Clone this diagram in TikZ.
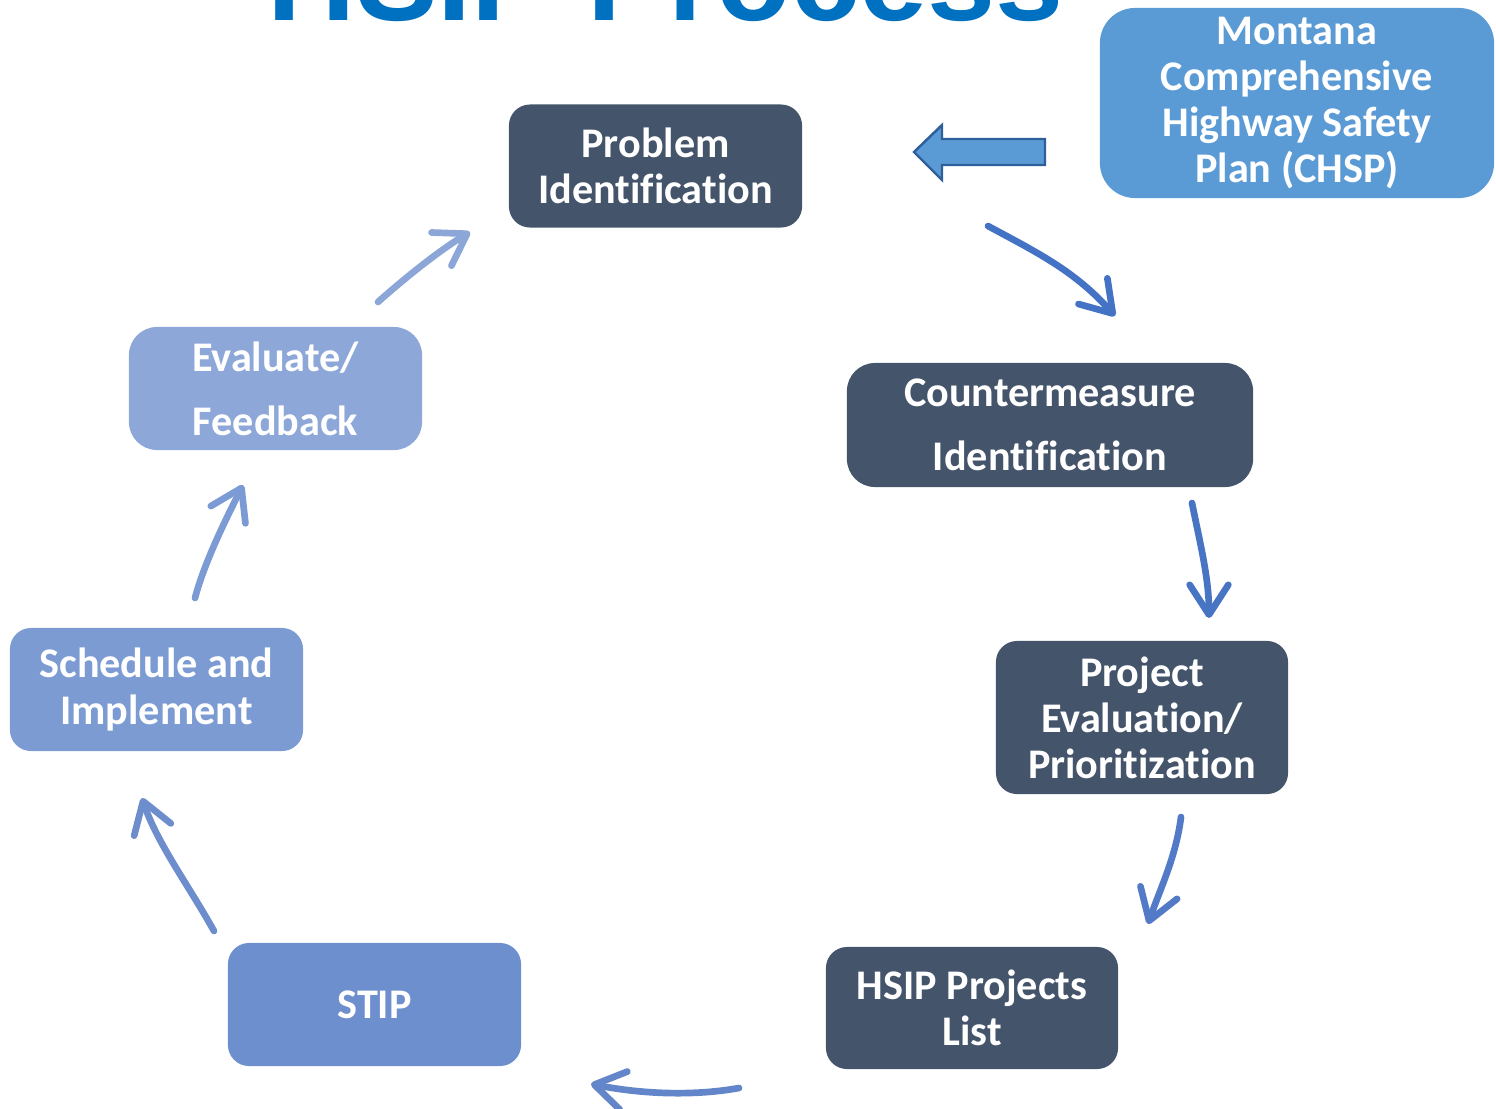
\documentclass[tikz,border=0pt]{standalone}
\usepackage{fontspec}
\setmainfont{Carlito}[Ligatures=NoCommon]
\newfontfamily\titlefont{Liberation Sans}
\usetikzlibrary{arrows.meta}

\definecolor{slate}{HTML}{44546A}
\definecolor{planblue}{HTML}{5B9BD5}
\definecolor{planline}{HTML}{2F5F9A}
\definecolor{titleblue}{HTML}{0070C0}
\definecolor{stipblue}{HTML}{6E8FCD}
\definecolor{schedblue}{HTML}{7C9BD3}
\definecolor{evalblue}{HTML}{8DA7D9}

\tikzset{
    stepbox/.style={fill=slate, text=white, rounded corners=6pt, align=center,
        inner sep=0pt, minimum width=2.93cm, minimum height=1.23cm,
        font=\fontsize{12}{13.1}\selectfont\bfseries},
    widebox/.style={stepbox, font=\fontsize{12}{18.2}\selectfont\bfseries, rounded corners=8pt},
    cyclearrow/.style={line width=1.9pt, line cap=round,
        -{Straight Barb[length=8.5pt,width=11pt,round]}}
}

\begin{document}
\begin{tikzpicture}[x=0.01cm, y=-0.01cm]
    \useasboundingbox (0,0) rectangle (1496,1108);
    \clip (0,0) rectangle (1496,1108);

    % title, cut off at the top
    \node[anchor=base west, inner sep=0pt, text=titleblue,
        font=\titlefont\fontsize{34.8}{40}\selectfont\bfseries] (title) at (267,20) {HSIP Process};

    % the steps
    \node[stepbox] (prob) at (655.5,166) {Problem\\Identification};
    \node[widebox, minimum width=4.06cm, minimum height=1.24cm] (counter) at (1050,425) {Countermeasure\\Identification};
    \node[stepbox, minimum width=2.92cm, minimum height=1.53cm] (proj) at (1142,717.5) {Project\\Evaluation/\\Prioritization};
    \node[stepbox, minimum width=2.92cm, minimum height=1.22cm] (hsip) at (972,1008) {HSIP Projects\\List};
    \node[stepbox, fill=stipblue] (stip) at (374.5,1004.5) {STIP};
    \node[stepbox, fill=schedblue] (sched) at (156.5,689.5) {Schedule and\\Implement};
    \node[widebox, fill=evalblue] (evalfb) at (275.5,388.5) {Evaluate/\\Feedback};

    % the plan box and its block arrow
    \node[stepbox, fill=planblue, minimum width=3.94cm, minimum height=1.9cm, rounded corners=10pt] (chsp) at (1297,103)
        {Montana\\Comprehensive\\Highway Safety\\Plan (CHSP)};
    \draw[fill=planblue, draw=planline, line width=0.7pt, line join=miter]
        (1045,139) -- (942,139) -- (942,125) -- (914,152) -- (942,180) -- (942,165) -- (1045,165) -- cycle;

    % ends of the cycle arrows
    \coordinate (a1s) at (988,226);   \coordinate (a1e) at (1115,316);
    \coordinate (a2s) at (1192,503);  \coordinate (a2e) at (1209,618);
    \coordinate (a3s) at (1181,817);  \coordinate (a3e) at (1148,924);
    \coordinate (a4s) at (739,1088);  \coordinate (a4e) at (591,1084);
    \coordinate (a5s) at (214,931);   \coordinate (a5e) at (142,798);
    \coordinate (a6s) at (195,598);   \coordinate (a6e) at (243,485);
    \coordinate (a7s) at (378,302);   \coordinate (a7e) at (470,232);

    \draw[cyclearrow, color={rgb,255:red,68;green,114;blue,196}] (a1s) .. controls +(50,27) and +(-40,-45) .. (a1e);
    \draw[cyclearrow, color={rgb,255:red,72;green,116;blue,196}] (a2s) .. controls +(8,40) and +(0,-40) .. (a2e);
    \draw[cyclearrow, color={rgb,255:red,82;green,122;blue,199}] (a3s) .. controls +(-5,40) and +(12,-35) .. (a3e);
    \draw[cyclearrow, color={rgb,255:red,99;green,133;blue,201}] (a4s) .. controls +(-50,9) and +(45,9) .. (a4e);
    \draw[cyclearrow, color={rgb,255:red,110;green,141;blue,205}] (a5s) .. controls +(-25,-45) and +(15,45) .. (a5e);
    \draw[cyclearrow, color={rgb,255:red,124;green,154;blue,211}] (a6s) .. controls +(10,-38) and +(-14,28) .. (a6e);
    \draw[cyclearrow, color={rgb,255:red,140;green,166;blue,216}] (a7s) .. controls +(28,-25) and +(-30,18) .. (a7e);
\end{tikzpicture}
\end{document}
